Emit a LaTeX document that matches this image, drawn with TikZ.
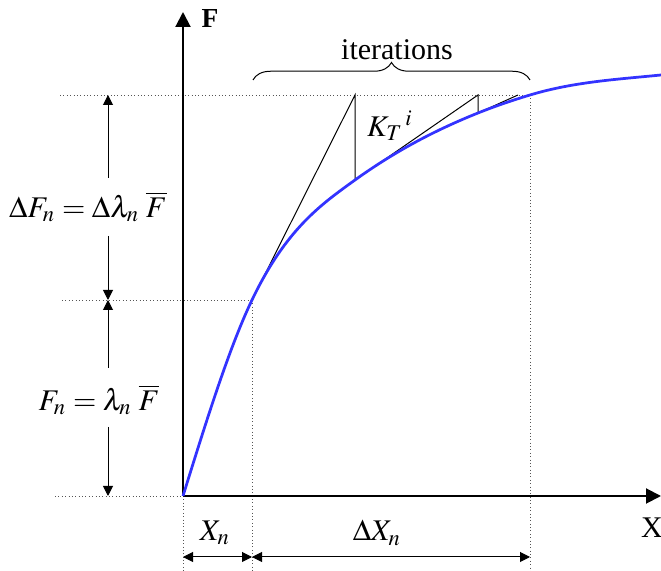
\documentclass[tikz,border=0pt]{standalone}
\usepackage{mathptmx}
\usepackage{fontspec}
\setmainfont{Liberation Serif}
\usepackage{tikz}
\usetikzlibrary{
  arrows.meta,
  calc,
  decorations.pathreplacing
}
\definecolor{curveBlue}{HTML}{3333FF}
\definecolor{guideGray}{HTML}{555555}

\begin{document}
\begin{tikzpicture}[
  x=0.4pt, y=-0.4pt,
  font=\fontsize{12}{14}\selectfont,
  axis/.style={
    line width=0.8pt,
    -{Triangle[length=6pt,width=6pt]}
  },
  curve/.style={draw=curveBlue, line width=1.1pt},
  tangent/.style={draw=black, line width=0.4pt},
  guide/.style={draw=guideGray, line width=0.35pt, densely dotted},
  dim/.style={
    line width=0.4pt,
    -{Triangle[length=4pt,width=4pt]}
  },
  ddim/.style={
    line width=0.4pt,
    {Triangle[length=4pt,width=4pt]}-{Triangle[length=4pt,width=4pt]}
  },
  brace/.style={
    decorate,
    decoration={brace, amplitude=7pt},
    line width=0.4pt
  },
  label/.style={inner sep=1pt}
]
\useasboundingbox (0,0) rectangle (661,571);

% points on the curve
\coordinate (O) at (183,496);
\coordinate (P1) at (252,300);
\coordinate (P2) at (355,180);
\coordinate (P3) at (478,113);
\coordinate (P4) at (530,95);
\coordinate (Pend) at (661,75);
\coordinate (T1) at (355,95);
\coordinate (T2) at (478,95);
\coordinate (T3) at (518,95);
\coordinate (Ytip) at (183,12);
\coordinate (Xtip) at (661,496);

% guides
\draw[guide] (60,95) coordinate (gA) -- (P4);
\draw[guide] (62,300) coordinate (gB) -- (P1);
\draw[guide] (55,496) coordinate (gC) -- (O);
\draw[guide] (O) -- (183,571);
\draw[guide] (P1) -- (252,571);
\draw[guide] (P4) -- (530,571);

% axes
\draw[axis] (O) -- (Ytip);
\draw[axis] (O) -- (Xtip);
\node[label, font=\fontsize{11}{13}\selectfont\bfseries] (Flab) at (210,19) {F};
\node[label] (Xlab) at (652,528) {X};

% iterations and response curve
\draw[tangent] (P1) -- (T1) -- (P2) -- (T2) -- (P3) -- (T3);
\draw[curve] (O)
  .. controls (206,422) and (229,348) .. (P1)
  .. controls (286,229) and (321,204.5) .. (P2)
  .. controls (396,150.5) and (437,129.4) .. (P3)
  .. controls (495,106.2) and (513,100.1) .. (P4)
  .. controls (574,81.8) and (617,79.4) .. (Pend);
\node[label] (Klab) at (390,126) {$K_T{}^{\,i}$};

\draw[brace] (253,80) coordinate (bL) -- (530,80) coordinate (bR);
\node[label] (iter) at (397,50) {iterations};

% load increments
\coordinate (dA1) at (108,178);
\coordinate (dA2) at (108,95);
\coordinate (dB1) at (108,236);
\coordinate (dB2) at (108,300);
\coordinate (dC1) at (108,368);
\coordinate (dC2) at (108,300);
\coordinate (dD1) at (108,427);
\coordinate (dD2) at (108,496);
\node[label] (dFlab) at (88,207) {$\Delta F_n = \Delta\lambda_n\;\overline{F}$};
\node[label] (Flab2) at (99,400) {$F_n = \lambda_n\;\overline{F}$};
\draw[dim] (dA1) -- (dA2);
\draw[dim] (dB1) -- (dB2);
\draw[dim] (dC1) -- (dC2);
\draw[dim] (dD1) -- (dD2);

% displacements
\coordinate (h0) at (183,557);
\coordinate (h1) at (252,557);
\coordinate (h2) at (530,557);
\draw[ddim] (h0) -- (h1);
\draw[ddim] (h1) -- (h2);
\node[label] (Xnlab) at (215,533) {$X_n$};
\node[label] (dXnlab) at (377,533) {$\Delta X_n$};

\end{tikzpicture}
\end{document}
